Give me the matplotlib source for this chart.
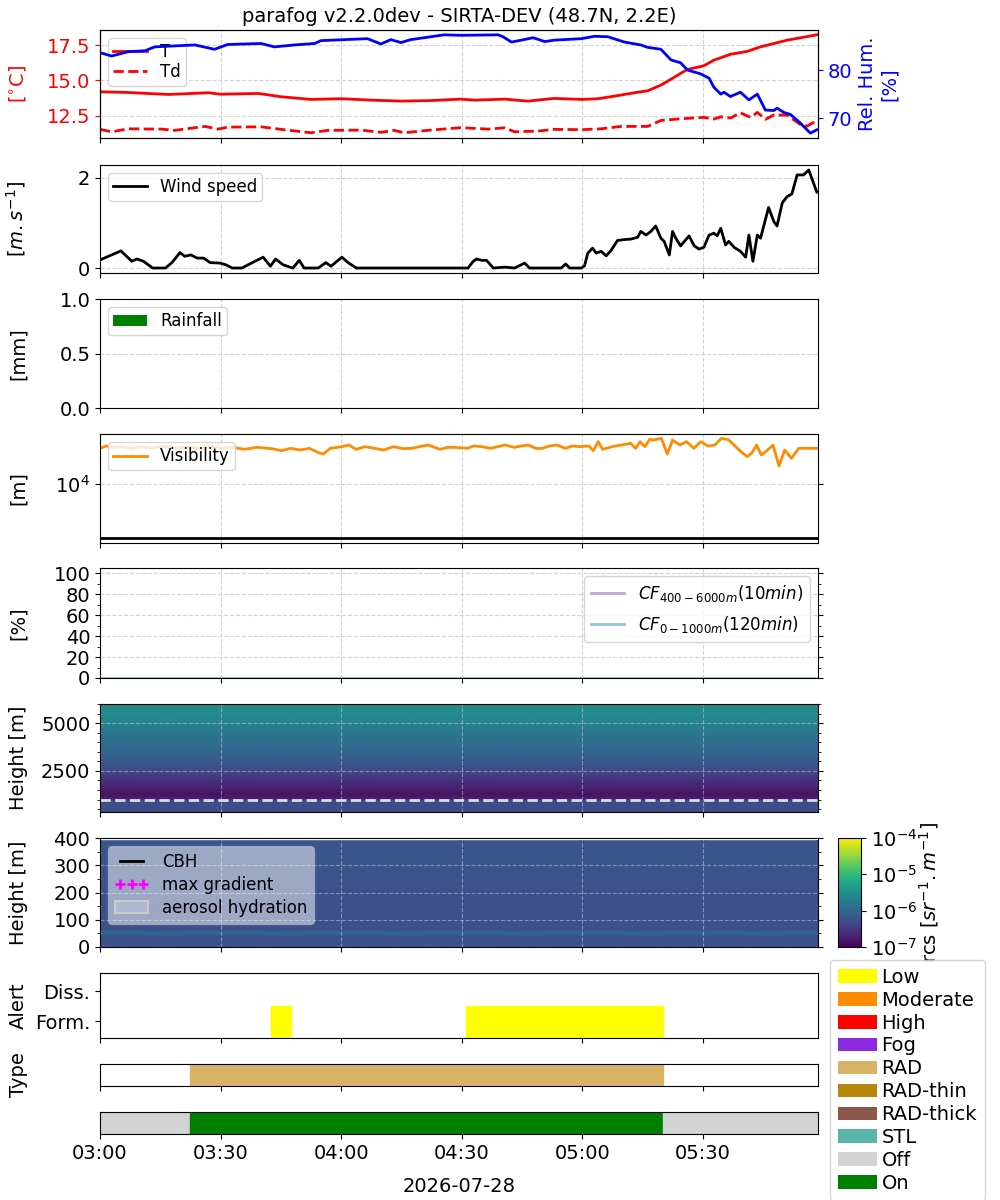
import numpy as np
import matplotlib
matplotlib.use("Agg")
import matplotlib.pyplot as plt
import matplotlib.dates as mdates
from matplotlib.colors import LogNorm
from matplotlib.patches import Patch
from matplotlib.lines import Line2D
from matplotlib.ticker import AutoMinorLocator, NullLocator

plt.rcParams['font.size'] = 14
plt.rcParams['legend.fontsize'] = 12

# ---- data (minutes after 03:00) ----
T0 = np.datetime64('2026-07-28T03:00:00')
t_end = 178.7

t_T = [0, 7, 17, 27, 30, 39.5, 45, 52.5, 60, 67.5, 75, 82.5, 89.7, 93.3, 100.7, 106.5,
       113, 120, 124, 128, 133, 136.3, 139.6, 142, 144.5, 146.2, 150.3, 152.8, 157, 161,
       164.4, 171, 178.4]
temp = [14.20, 14.15, 14.01, 14.13, 14.03, 14.08, 13.85, 13.66, 13.71, 13.61, 13.54, 13.58,
        13.68, 13.61, 13.68, 13.54, 13.73, 13.66, 13.71, 13.89, 14.13, 14.27, 14.67, 15.07,
        15.50, 15.78, 16.04, 16.44, 16.86, 17.05, 17.38, 17.85, 18.23]

t_Td = [0, 2.9, 7, 15.3, 18.6, 26.1, 29.4, 31.8, 40.1, 45.1, 52.5, 56.7, 65, 69.9, 73.2,
        75.7, 81.5, 89.7, 96.6, 100.7, 103.2, 109, 113, 120, 124.7, 129.7, 136.3, 139.6,
        144.5, 150.3, 152.8, 154.5, 157, 159.4, 161.9, 163.6, 165.6, 167.7, 171, 174.3,
        176, 178.4]
dewp = [11.54, 11.37, 11.58, 11.56, 11.47, 11.75, 11.56, 11.70, 11.72, 11.54, 11.30, 11.47,
        11.49, 11.33, 11.47, 11.30, 11.47, 11.66, 11.56, 11.65, 11.37, 11.42, 11.54, 11.52,
        11.58, 11.75, 11.75, 12.17, 12.29, 12.39, 12.27, 12.43, 12.35, 12.71, 12.39, 12.74,
        12.25, 12.56, 12.55, 11.89, 11.77, 12.17]

t_RH = [0, 2.9, 7, 11.2, 13.6, 23.6, 28.5, 31.8, 40.1, 43.4, 48.4, 53.4, 55, 60.8, 66.6,
        69.9, 72.4, 74.9, 77.3, 81.5, 85.6, 89.7, 99.1, 100.3, 102.4, 104.9, 107.8, 110.7,
        113.1, 119.8, 123.1, 126.4, 130.5, 134.6, 136.3, 139.6, 142.1, 144.5, 146.2, 149.5,
        151.6, 152.8, 154.5, 155.3, 156.9, 159.4, 161.5, 163.6, 165.6, 167.7, 168.5, 170.2,
        171.8, 174.3, 176.8, 178.4]
rh = [83.6, 82.9, 83.8, 84.0, 84.8, 85.2, 84.3, 85.3, 85.5, 84.8, 85.2, 85.5, 86.1, 86.3,
      86.5, 85.4, 86.3, 85.7, 86.3, 86.8, 87.3, 87.2, 87.3, 86.9, 85.8, 86.2, 86.7, 85.9,
      86.2, 86.5, 87.0, 86.9, 85.8, 85.2, 84.7, 84.3, 82.1, 81.5, 80.0, 79.2, 78.3, 76.4,
      75.0, 75.4, 74.5, 75.4, 73.8, 75.0, 71.7, 71.6, 72.1, 71.2, 70.8, 69.0, 66.9, 67.6]

t_ws = [0, 2.9, 5.2, 7.9, 9.2, 10.8, 13.1, 16.3, 17.9, 19.9, 21.1, 22.6, 24.2, 25.8, 27.4,
        29.8, 31.4, 32.9, 35.3, 37.7, 40.6, 42.4, 43.7, 45.6, 48, 49.6, 50.8, 54.3, 56.2,
        57.5, 60.2, 61.9, 63.8, 91.6, 92.9, 93.7, 95, 96.2, 97.9, 100.7, 103.2, 105.7, 106.9,
        114.8, 115.9, 116.9, 119.8, 120.6, 121.4, 122.6, 123.5, 124.7, 126, 127.2, 128.8,
        130.5, 132.1, 133.8, 134.6, 135.9, 137.1, 138.3, 139.6, 140.4, 141.7, 142.5, 143.3,
        144.5, 146.6, 147.9, 149.1, 150.3, 151.6, 152.8, 153.6, 154.5, 155.7, 156.5, 157.8,
        159.4, 160.7, 161.5, 162.5, 163.6, 164.4, 166.4, 167.7, 168.5, 169.8, 171, 172.2,
        173.5, 175.1, 176.4, 178.4]
ws = [0.18, 0.29, 0.38, 0.15, 0.20, 0.15, 0.0, 0.0, 0.12, 0.34, 0.26, 0.29, 0.22, 0.22, 0.12,
      0.11, 0.07, 0.0, 0.0, 0.11, 0.24, 0.04, 0.20, 0.07, 0.0, 0.17, 0.0, 0.0, 0.12,
      0.04, 0.24, 0.11, 0.0, 0.0, 0.15, 0.20, 0.17, 0.17, 0.0, 0.02, 0.0, 0.11, 0.0,
      0.0, 0.09, 0.0, 0.0, 0.05, 0.33, 0.44, 0.33, 0.37, 0.27, 0.39, 0.61,
      0.63, 0.64, 0.68, 0.81, 0.73, 0.81, 0.93, 0.66, 0.59, 0.29, 0.81, 0.66,
      0.49, 0.71, 0.49, 0.42, 0.46, 0.73, 0.77, 0.71, 0.88, 0.51, 0.59, 0.46,
      0.37, 0.24, 0.73, 0.15, 0.73, 0.66, 1.34, 1.03, 0.93, 1.44, 1.58, 1.64,
      2.06, 2.06, 2.17, 1.68]

rain_t = [0, 30, 60, 90, 120, 150, 178]
rain_mm = [0.0, 0.0, 0.0, 0.0, 0.0, 0.0, 0.0]

t_vis = [0, 1.5, 3, 5.7, 8, 10, 13, 16, 19, 22, 25, 28, 30.5, 33, 36, 39, 42.8, 45.1, 47.5,
         49.8, 52.1, 54.4, 55.6, 57.3, 60.2, 62, 63.7, 66, 68.3, 70.7, 73, 75.5, 77.6, 79.5,
         81.7, 84.6, 86.5, 88.1, 91.5, 93, 95, 97.3, 99, 100.8, 103.1, 104.8, 106.6, 108.5,
         110.1, 111.8, 113.6, 115.9, 117.5, 119.3, 121.7, 122.8, 124, 125.1, 127.5, 129.8,
         132.1, 133.3, 134.4, 135.6, 136.8, 137.9, 139.7, 141.2, 142.5, 144.3, 146, 147.8,
         149.5, 151.3, 153, 154.7, 156.5, 158.2, 160, 161.1, 162.3, 163.4, 164.6, 165.7,
         167.5, 169, 170.4, 172.1, 173.9, 178.7]
vis = [19820, 20730, 20210, 20470, 19700, 20470, 19950, 20600, 19820, 20470, 19700, 20730,
       19820, 20210, 19450, 20210, 19700, 18950, 19820, 19200, 19820, 18240, 17780, 19820,
       20470, 21130, 19450, 20470, 19820, 19200, 20470, 19700, 19820, 20470, 21130, 19450,
       20210, 20210, 19820, 20730, 20470, 19820, 20470, 21130, 20210, 20730, 21130, 19820,
       19820, 20730, 21130, 19820, 20730, 20470, 20730, 18950, 22530, 19450, 20470, 21130,
       21830, 19820, 22530, 20470, 23570, 23270, 24030, 17780, 23270, 21130, 22530, 19820,
       22530, 20730, 21130, 24030, 23270, 20470, 18010, 16890, 18240, 21130, 17450, 18590,
       21130, 14130, 19200, 16360, 19820, 19820]
vis_line = 3550

cf_t = [0, t_end]
cf_high = [0, 0]
cf_low = [0, 0]

# lidar range-corrected signal, log10 values (rows = height, cols = time)
lid_t = [0, 30, 60, 90, 120, 150, t_end]
hi_h = [350, 600, 950, 1050, 1300, 1700, 2100, 2600, 3200, 3800, 4400, 5000, 5500, 5950]
hi_log = [-6.30, -6.30, -6.30, -6.75, -6.85, -6.70, -6.55, -6.30, -6.10, -5.95, -5.85,
          -5.65, -5.55, -5.55]
low_h = [0, 8, 14, 38, 46, 58, 66, 150, 300, 390]
low_log = [-6.20, -6.20, -6.27, -6.27, -6.05, -6.05, -6.25, -6.27, -6.22, -6.22]

alert_seg = [(42.5, 47.5, 'Low'), (91.0, 140.2, 'Low')]
type_seg = [(22.3, 140.2, 'RAD')]
status_seg = [(0, 22.3, 'Off'), (22.3, 140.2, 'On'), (140.2, t_end, 'Off')]

fog_names = ['Low', 'Moderate', 'High', 'Fog', 'RAD', 'RAD-thin', 'RAD-thick', 'STL', 'Off', 'On']
fog_colors = ['yellow', 'darkorange', 'red', 'blueviolet', '#d8b365', 'darkgoldenrod',
              '#8c564b', '#5ab4ac', 'lightgray', 'green']
fog_cmap = dict(zip(fog_names, fog_colors))


def to_time(minutes):
    return T0 + (np.asarray(minutes, float) * 60).astype('timedelta64[s]')


def box(top, bottom, left=100, right=818):
    return [left / 1000, 1 - bottom / 1200, (right - left) / 1000, (bottom - top) / 1200]


def grid(ax):
    ax.grid(True, ls='--', color='lightgray', lw=0.8)


fig = plt.figure(figsize=(10, 12), dpi=100)

# ---- temperature / humidity ----
ax_t = fig.add_axes(box(30, 138))
ax_t.plot(to_time(t_T), temp, color='red', lw=2, label='T')
ax_t.plot(to_time(t_Td), dewp, color='red', ls='--', lw=2, label='Td')
ax_t.set_ylim(10.93, 18.57)
ax_t.set_ylabel('[$^{\\circ}$C]', color='red')
ax_t.tick_params(axis='y', colors='red')
ax_t.legend(loc='upper left', labelspacing=0.1, borderpad=0.3)
grid(ax_t)
ax_t.set_title('parafog v2.2.0dev - SIRTA-DEV (48.7N, 2.2E)', fontsize=14)
ax_rh = ax_t.twinx()
ax_rh.plot(to_time(t_RH), rh, color='blue', lw=2)
ax_rh.set_ylim(65.9, 88.3)
ax_rh.set_ylabel('Rel. Hum.\n[%]', color='blue')
ax_rh.tick_params(axis='y', colors='blue')

# ---- wind ----
ax_w = fig.add_axes(box(165, 273), sharex=ax_t)
ax_w.plot(to_time(t_ws), ws, color='black', lw=2, label='Wind speed')
ax_w.set_ylim(-0.11, 2.28)
ax_w.set_ylabel('[$m.s^{-1}$]')
ax_w.legend(loc='upper left', borderpad=0.3)
grid(ax_w)

# ---- rain ----
ax_r = fig.add_axes(box(299, 408), sharex=ax_t)
ax_r.bar(to_time(rain_t), rain_mm, width=1 / 1440, color='green', label='Rainfall')
ax_r.set_ylim(0, 1)
ax_r.set_yticks([0, 0.5, 1.0])
ax_r.set_ylabel('[mm]')
ax_r.legend(loc='upper left', borderpad=0.3)
grid(ax_r)

# ---- visibility ----
ax_v = fig.add_axes(box(434, 543), sharex=ax_t)
ax_v.plot(to_time(t_vis), vis, color='darkorange', lw=2, label='Visibility')
ax_v.axhline(vis_line, color='black', lw=2)
ax_v.set_yscale('log')
ax_v.set_ylim(3220, 26100)
ax_v.set_yticks([1e4])
ax_v.yaxis.set_minor_locator(NullLocator())
ax_v.tick_params(axis='y', right=True)
ax_v.set_ylabel('[m]')
ax_v.legend(loc='upper left', borderpad=0.3)
grid(ax_v)

# ---- cloud fraction ----
ax_c = fig.add_axes(box(568, 678), sharex=ax_t)
ax_c.plot(to_time(cf_t), cf_high, color='#c3a5d6', lw=2, label='$CF_{400-6000m}(10min)$')
ax_c.plot(to_time(cf_t), cf_low, color='#8fc3dd', lw=2, label='$CF_{0-1000m}(120min)$')
ax_c.set_ylim(0, 105)
ax_c.set_yticks([0, 20, 40, 60, 80, 100])
ax_c.yaxis.set_minor_locator(AutoMinorLocator(2))
ax_c.tick_params(axis='y', which='both', right=True)
ax_c.set_ylabel('[%]')
ax_c.legend(loc='upper right', labelspacing=0.6)
grid(ax_c)

# ---- lidar ----
norm = LogNorm(1e-7, 1e-4)
tn = mdates.date2num(to_time(lid_t))
ax_h = fig.add_axes(box(704, 812), sharex=ax_t)
X, Y = np.meshgrid(tn, hi_h)
C = 10.0 ** np.repeat(np.array(hi_log)[:, None], len(lid_t), axis=1)
ax_h.pcolormesh(X, Y, C, shading='gouraud', cmap='viridis', norm=norm)
ax_h.axhline(1000, color='#dddddd', ls='--', lw=2)
ax_h.set_ylim(350, 6000)
ax_h.set_yticks([2500, 5000])
ax_h.yaxis.set_minor_locator(AutoMinorLocator(5))
ax_h.tick_params(axis='y', which='both', right=True)
ax_h.set_ylabel('Height [m]')
ax_h.grid(True, ls='--', color='lightgray', lw=0.8, alpha=0.5)

ax_l = fig.add_axes(box(838, 947), sharex=ax_t)
X, Y = np.meshgrid(tn, low_h)
C = 10.0 ** np.repeat(np.array(low_log)[:, None], len(lid_t), axis=1)
mesh = ax_l.pcolormesh(X, Y, C, shading='gouraud', cmap='viridis', norm=norm)
ax_l.set_ylim(0, 400)
ax_l.set_yticks([0, 100, 200, 300, 400])
ax_l.yaxis.set_minor_locator(AutoMinorLocator(2))
ax_l.tick_params(axis='y', which='both', right=True)
ax_l.set_ylabel('Height [m]')
ax_l.grid(True, ls='--', color='lightgray', lw=0.8, alpha=0.5)
lid_handles = [Line2D([], [], color='black', lw=2, label='CBH'),
               Line2D([], [], color='magenta', marker='+', ls='none', ms=7, mew=2,
                      label='max gradient'),
               Patch(facecolor=(1, 1, 1, 0.2), edgecolor='#cccccc', lw=1.5,
                     label='aerosol hydration')]
ax_l.legend(handles=lid_handles, loc='upper left', numpoints=3, framealpha=0.5,
            labelspacing=0.3)

cax = fig.add_axes(box(838, 947, 838, 861))
cb = fig.colorbar(mesh, cax=cax)
cb.set_ticks([1e-7, 1e-6, 1e-5, 1e-4])
cb.set_label('rcs $[sr^{-1}.m^{-1}]$', labelpad=0)
cax.minorticks_off()

# ---- fog alert / type / status ----
def draw_segments(ax, segs, y0, h):
    for start, stop, name in segs:
        s0 = mdates.date2num(to_time(start))
        s1 = mdates.date2num(to_time(stop))
        ax.broken_barh([(s0, s1 - s0)], (y0, h), color=fog_cmap[name])

ax_a = fig.add_axes(box(973, 1038), sharex=ax_t)
draw_segments(ax_a, alert_seg, -0.55, 1.08)
ax_a.set_ylim(-0.55, 1.61)
ax_a.set_yticks([0, 1])
ax_a.set_yticklabels(['Form.', 'Diss.'])
ax_a.set_ylabel('Alert')

ax_ty = fig.add_axes(box(1064, 1086), sharex=ax_t)
draw_segments(ax_ty, type_seg, 0, 1)
ax_ty.set_ylim(0, 1)
ax_ty.set_yticks([])
ax_ty.set_ylabel('Type')

ax_s = fig.add_axes(box(1112, 1134), sharex=ax_t)
draw_segments(ax_s, status_seg, 0, 1)
ax_s.set_ylim(0, 1)
ax_s.set_yticks([])

ax_s.set_xlim(to_time(0), to_time(t_end))
ax_s.xaxis.set_major_locator(mdates.MinuteLocator(byminute=[0, 30]))
ax_s.xaxis.set_major_formatter(mdates.DateFormatter('%H:%M'))
ax_s.set_xlabel('2026-07-28', labelpad=10)

for ax in [ax_t, ax_w, ax_r, ax_v, ax_c, ax_h, ax_l, ax_a, ax_ty]:
    ax.tick_params(axis='x', labelbottom=False)
for ax in [ax_t, ax_w, ax_r, ax_v, ax_c, ax_h, ax_l, ax_a, ax_ty]:
    ax.yaxis.set_label_coords(-0.1, 0.5)

fog_handles = [Patch(facecolor=c, label=n) for n, c in zip(fog_names, fog_colors)]
fig.legend(handles=fog_handles, loc='upper left', bbox_to_anchor=(0.83, 0.2),
           fontsize=14, labelspacing=0.2, handlelength=2.0, handletextpad=0.25,
           borderaxespad=0)

fig.savefig('out.png', dpi=100)
